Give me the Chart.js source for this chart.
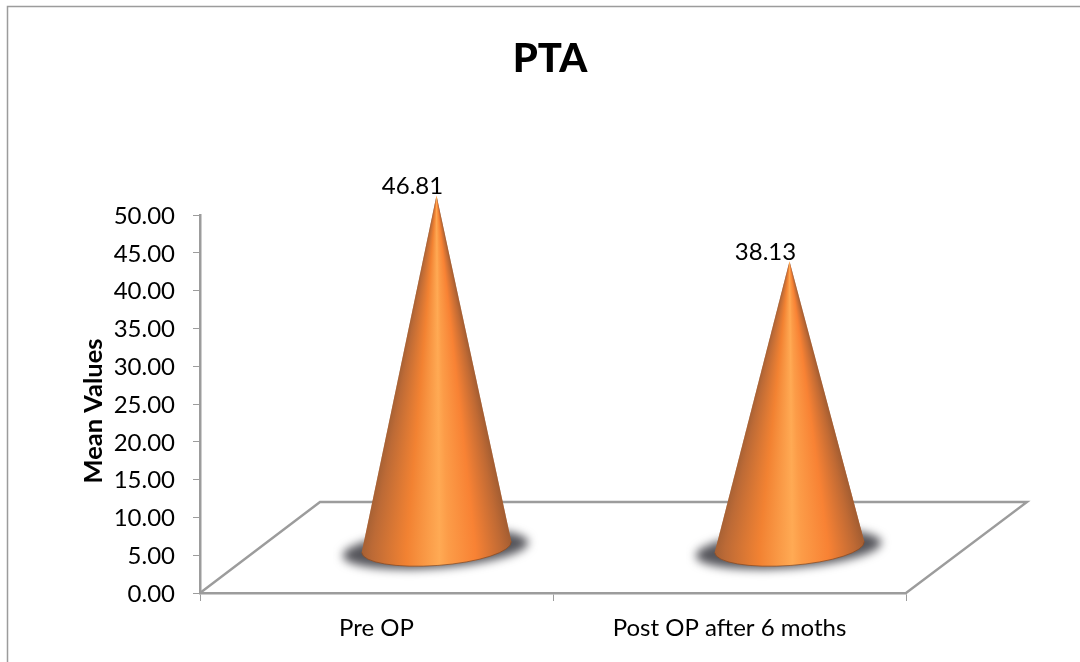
<!DOCTYPE html>
<html><head><meta charset="utf-8">
<style>html,body{margin:0;padding:0;background:#fff}#w{width:1080px;height:662px;position:relative}</style>
<script src="https://cdn.jsdelivr.net/npm/chart.js@4"></script>
</head><body><div id="w"><canvas id="c"></canvas></div>
<script>
const categories = ["Pre OP", "Post OP after 6 moths"];
const meanValues = [46.81, 38.13];
const chartTitle = "PTA";
const yAxisTitle = "Mean Values";
const FONT = 'Lato, "Open Sans", sans-serif';
const GREY = '#9c9c9c';

function coneGradient(ctx,x0,x1){
  const g=ctx.createLinearGradient(x0,0,x1,0);
  g.addColorStop(0,'rgb(165,96,52)');
  g.addColorStop(0.07,'rgb(188,106,54)');
  g.addColorStop(0.3,'rgb(242,130,50)');
  g.addColorStop(0.52,'rgb(255,170,84)');
  g.addColorStop(0.58,'rgb(252,156,72)');
  g.addColorStop(0.76,'rgb(248,130,52)');
  g.addColorStop(0.93,'rgb(192,106,52)');
  g.addColorStop(1,'rgb(165,94,50)');
  return g;
}
function cone(ctx,cx,cy,ax,ay){
  const rx=75,ry=18.5,rot=-4.2*Math.PI/180;
  ctx.save();
  // soft floor shadow
  ctx.save();
  ctx.filter='blur(5px)';
  ctx.fillStyle='#55555b';
  ctx.beginPath();
  ctx.ellipse(cx-1,cy+2,rx+18,ry+0.5,rot,0,Math.PI*2);
  ctx.fill();
  ctx.restore();
  const pt=a=>[cx+rx*Math.cos(a)*Math.cos(rot)-ry*Math.sin(a)*Math.sin(rot),
               cy+rx*Math.cos(a)*Math.sin(rot)+ry*Math.sin(a)*Math.cos(rot)];
  const p0=pt(Math.PI), p1=pt(0);
  ctx.beginPath();
  ctx.moveTo(ax,ay);
  ctx.lineTo(p0[0],p0[1]);
  ctx.ellipse(cx,cy,rx,ry,rot,Math.PI,0,true);
  ctx.closePath();
  ctx.save();
  ctx.clip();
  // horizontal slices, each shaded across the cone's width at that height
  const yEnd=cy+ry+3, h=cy-ay;
  for(let y=Math.floor(ay)-1;y<yEnd;y++){
    const k=Math.min(1,Math.max(0.004,(y+0.5-ay)/h));
    const x0=ax+(p0[0]-ax)*k, x1=ax+(p1[0]-ax)*k;
    ctx.fillStyle=coneGradient(ctx,x0,x1);
    ctx.fillRect(x0-2,y,x1-x0+4,1.5);
  }
  ctx.restore();
  // rim along the bottom of the base
  ctx.strokeStyle='rgba(125,72,40,0.7)';
  ctx.lineWidth=1;
  ctx.beginPath();
  ctx.ellipse(cx,cy,rx,ry,rot,Math.PI,0,true);
  ctx.stroke();
  ctx.restore();
}

const scene3d = {
  id:'scene3d',
  beforeDraw(chart){
    const ctx=chart.ctx;
    ctx.save();
    ctx.strokeStyle=GREY; ctx.lineWidth=1.5;
    ctx.beginPath();
    ctx.moveTo(7.5,662); ctx.lineTo(7.5,6.5); ctx.lineTo(1080,6.5);
    ctx.stroke();
    ctx.restore();
  },
  beforeDatasetsDraw(chart){
    const ctx=chart.ctx, a=chart.chartArea, dx=120, dy=-91;
    ctx.save();
    ctx.strokeStyle=GREY; ctx.lineWidth=2.4;
    ctx.beginPath();
    ctx.moveTo(a.left,a.bottom);
    ctx.lineTo(a.left+dx,a.bottom+dy);
    ctx.lineTo(a.right+dx+1,a.bottom+dy);
    ctx.lineTo(a.right,a.bottom);
    ctx.stroke();
    ctx.restore();
  },
  afterDatasetsDraw(chart){
    const ctx=chart.ctx, meta=chart.getDatasetMeta(0), a=chart.chartArea;
    meta.data.forEach(bar=>{
      cone(ctx,bar.x+60,bar.base-45.5,bar.x+60,bar.y-43.5);
    });
    ctx.save();
    ctx.fillStyle='#000';
    ctx.font='24px '+FONT;
    ctx.textAlign='center';
    ctx.textBaseline='middle';
    meta.data.forEach((bar,i)=>{
      ctx.fillText(meanValues[i].toFixed(2),bar.x+36,bar.y-52.5);
    });
    // value-axis title
    ctx.translate(94,(a.top+a.bottom)/2+7);
    ctx.rotate(-Math.PI/2);
    ctx.font='bold 25.5px '+FONT;
    ctx.fillText(yAxisTitle,0,0);
    ctx.restore();
  }
};

new Chart(document.getElementById('c'),{
  type:'bar',
  data:{labels:categories,datasets:[{data:meanValues,backgroundColor:'rgba(0,0,0,0)',borderWidth:0}]},
  plugins:[scene3d],
  options:{
    responsive:true,maintainAspectRatio:false,animation:false,
    layout:{padding:{left:20,right:0,top:0,bottom:0}},
    plugins:{
      legend:{display:false},tooltip:{enabled:false},
      title:{display:true,text:chartTitle,color:'#000',font:{family:FONT,size:40,weight:'900'},padding:{top:35,bottom:132}}
    },
    scales:{
      x:{
        grid:{drawOnChartArea:false,drawTicks:true,tickLength:8,color:GREY,offset:true},
        border:{color:GREY,width:2.5},
        ticks:{color:'#000',font:{family:FONT,size:24},padding:13,maxRotation:0},
        afterFit(s){s.height=69;}
      },
      y:{
        min:0,max:50,
        grid:{drawOnChartArea:false,drawTicks:true,tickLength:7,color:GREY},
        border:{color:GREY,width:2.5},
        ticks:{stepSize:5,color:'#000',font:{family:FONT,size:24},padding:18,labelOffset:1,callback:v=>Number(v).toFixed(2)},
        afterFit(s){s.width=180;}
      },
      yR:{
        position:'right',display:true,min:0,max:50,
        grid:{display:false},border:{display:false},ticks:{display:false},
        afterFit(s){s.width=174;}
      }
    }
  }
});
</script></body></html>
